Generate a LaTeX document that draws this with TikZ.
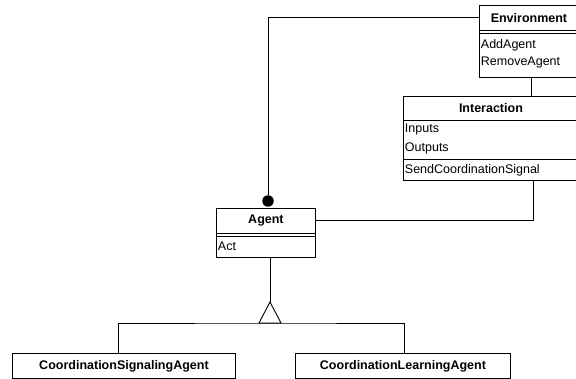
\documentclass[tikz,border=0pt]{standalone}
\usepackage{fontspec}
\setmainfont{Liberation Sans}
\usetikzlibrary{calc}
\begin{document}
\begin{tikzpicture}[x=1pt,y=-1pt, line width=0.9pt,
 box/.style={draw, fill=white, anchor=north west, inner sep=0pt},
 ttl/.style={anchor=north west, inner sep=0pt, font=\fontsize{12.5}{14}\selectfont\bfseries},
 itm/.style={anchor=west, inner sep=0pt, font=\fontsize{12.5}{14}\selectfont},
 conn/.style={draw, line width=0.9pt}]
\useasboundingbox (0,0) rectangle (576,379);
% Environment
\node[box, minimum width=99pt, minimum height=72pt] (env) at (479,5) {};
\node[ttl, minimum width=99pt, minimum height=25pt] (envT) at (479,5) {Environment};
\draw (479,30) -- (578,30);
\draw (479,33) -- (578,33);
\node[itm] (envA) at (480.5,45.5) {AddAgent};
\node[itm] (envR) at (480.5,62.5) {RemoveAgent};
% Interaction
\node[box, minimum width=175pt, minimum height=84pt] (inter) at (403,96) {};
\node[ttl, minimum width=175pt, minimum height=24pt] (interT) at (403,96) {Interaction};
\draw (403,120) -- (578,120);
\draw (403,159) -- (578,159);
\node[itm] (interI) at (404.5,129.5) {Inputs};
\node[itm] (interO) at (404.5,148.5) {Outputs};
\node[itm] (interS) at (404.5,170) {SendCoordinationSignal};
% Agent
\node[box, minimum width=99pt, minimum height=49pt] (agent) at (216,208) {};
\node[ttl, minimum width=99pt, minimum height=25pt] (agentT) at (216,208) {Agent};
\draw (216,233) -- (315,233);
\draw (216,236) -- (315,236);
\node[itm] (agentA) at (217.5,246.5) {Act};
% subclasses
\node[box, minimum width=223pt, minimum height=25pt] (csa) at (12,353) {};
\node[ttl, minimum width=223pt, minimum height=25pt] (csaT) at (12,353) {CoordinationSignalingAgent};
\node[box, minimum width=215pt, minimum height=25pt] (cla) at (295,353) {};
\node[ttl, minimum width=215pt, minimum height=25pt] (claT) at (295,353) {CoordinationLearningAgent};
% ball end
\node[circle, fill=black, inner sep=0pt, minimum size=11.5pt] (ball) at (268,201) {};
% connectors
\draw (envT.west) -| (ball.north);
\draw ($(env.south west)+(52,0)$) -- ($(inter.north west)+(128,0)$);
\draw ($(inter.south west)+(130,0)$) |- (agentT.east);
% generalization
\coordinate (tri) at (270,302);
\coordinate (triB) at (270,323);
\draw (tri) -- (tri |- agent.south);
\draw ($(csa.north west)+(106,0)$) |- (triB) -| ($(cla.north west)+(109,0)$);
\draw[fill=white, line join=miter] (tri) -- ++(-11,21) -- ++(22,0) -- cycle;
\end{tikzpicture}
\end{document}
